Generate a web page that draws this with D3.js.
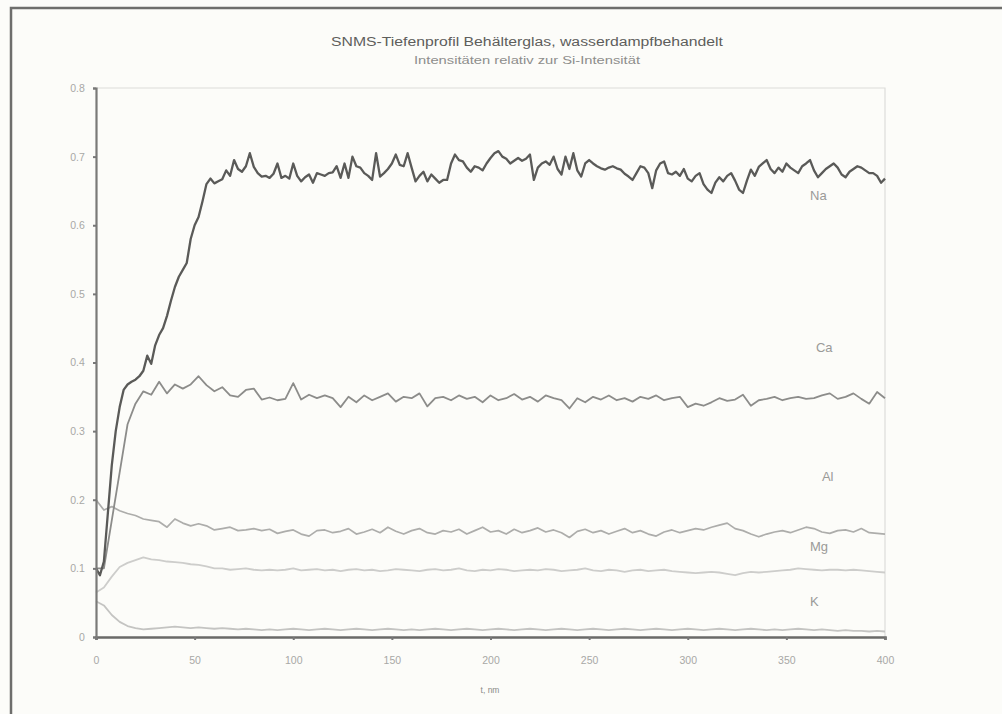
<!DOCTYPE html>
<html>
<head>
<meta charset="utf-8">
<script src="https://cdn.jsdelivr.net/npm/d3@7"></script>
<style>
	body { margin: 0; background: #fcfcf9; }
	svg { display: block; font-family: Arial, "Liberation Sans", sans-serif; }
</style>
</head>
<body>
<div id="chart"></div>
<script>
// depth axis, nm
const depthFine = d3.range(0, 401, 2)
const depthCoarse = d3.range(0, 401, 4)

const naValues = [
	0.10, 0.09, 0.11, 0.18, 0.25, 0.30, 0.335, 0.36, 0.368, 0.372,
	0.375, 0.38, 0.388, 0.41, 0.398, 0.425, 0.44, 0.45, 0.468, 0.49,
	0.51, 0.525, 0.535, 0.545, 0.58, 0.60, 0.612, 0.635, 0.66, 0.668,
	0.661, 0.664, 0.667, 0.68, 0.672, 0.695, 0.682, 0.678, 0.686, 0.705,
	0.685, 0.676, 0.671, 0.672, 0.669, 0.675, 0.69, 0.669, 0.672, 0.668,
	0.69, 0.672, 0.664, 0.67, 0.674, 0.662, 0.676, 0.674, 0.672, 0.676,
	0.677, 0.686, 0.669, 0.69, 0.669, 0.70, 0.686, 0.684, 0.676, 0.672,
	0.666, 0.705, 0.671, 0.676, 0.682, 0.69, 0.703, 0.688, 0.686, 0.705,
	0.684, 0.664, 0.672, 0.678, 0.664, 0.674, 0.668, 0.662, 0.666, 0.666,
	0.69, 0.703, 0.695, 0.693, 0.684, 0.678, 0.686, 0.684, 0.68, 0.69,
	0.698, 0.705, 0.708, 0.70, 0.697, 0.69, 0.694, 0.698, 0.694, 0.697,
	0.703, 0.666, 0.684, 0.69, 0.693, 0.688, 0.70, 0.682, 0.674, 0.70,
	0.682, 0.705, 0.68, 0.671, 0.69, 0.695, 0.69, 0.686, 0.683, 0.681,
	0.684, 0.686, 0.683, 0.681, 0.675, 0.671, 0.666, 0.676, 0.686, 0.684,
	0.676, 0.654, 0.68, 0.69, 0.693, 0.676, 0.674, 0.678, 0.672, 0.682,
	0.668, 0.664, 0.672, 0.676, 0.66, 0.652, 0.647, 0.662, 0.67, 0.664,
	0.672, 0.676, 0.665, 0.652, 0.647, 0.665, 0.681, 0.672, 0.685, 0.69,
	0.695, 0.682, 0.676, 0.684, 0.678, 0.69, 0.684, 0.68, 0.676, 0.686,
	0.69, 0.695, 0.68, 0.67, 0.676, 0.682, 0.686, 0.69, 0.684, 0.674,
	0.67, 0.678, 0.682, 0.686, 0.684, 0.68, 0.676, 0.676, 0.672, 0.662,
	0.668
]

const caValues = [
	0.10, 0.10, 0.17, 0.24, 0.31, 0.34, 0.358, 0.353, 0.372, 0.355,
	0.368, 0.362, 0.368, 0.38, 0.367, 0.358, 0.364, 0.352, 0.35, 0.36,
	0.362, 0.346, 0.349, 0.345, 0.347, 0.37, 0.346, 0.353, 0.348, 0.352,
	0.348, 0.335, 0.35, 0.342, 0.352, 0.345, 0.35, 0.355, 0.343, 0.35,
	0.348, 0.355, 0.336, 0.348, 0.35, 0.345, 0.352, 0.347, 0.35, 0.342,
	0.352, 0.345, 0.348, 0.354, 0.346, 0.35, 0.343, 0.352, 0.348, 0.345,
	0.333, 0.348, 0.342, 0.35, 0.346, 0.352, 0.345, 0.348, 0.343, 0.35,
	0.347, 0.352, 0.345, 0.348, 0.35, 0.335, 0.34, 0.337, 0.342, 0.348,
	0.344, 0.346, 0.353, 0.337, 0.345, 0.347, 0.35, 0.345, 0.348, 0.35,
	0.347, 0.348, 0.352, 0.355, 0.347, 0.35, 0.355, 0.347, 0.34, 0.357,
	0.348
]

const alValues = [
	0.20, 0.185, 0.19, 0.184, 0.18, 0.177, 0.172, 0.17, 0.168, 0.16,
	0.172, 0.166, 0.162, 0.165, 0.162, 0.156, 0.158, 0.16, 0.155, 0.156,
	0.158, 0.155, 0.157, 0.151, 0.154, 0.156, 0.15, 0.147, 0.155, 0.156,
	0.152, 0.154, 0.158, 0.15, 0.153, 0.157, 0.152, 0.16, 0.154, 0.15,
	0.155, 0.158, 0.152, 0.15, 0.155, 0.153, 0.157, 0.15, 0.155, 0.16,
	0.153, 0.155, 0.15, 0.157, 0.152, 0.155, 0.159, 0.153, 0.156, 0.152,
	0.145, 0.154, 0.157, 0.152, 0.155, 0.15, 0.154, 0.158, 0.152, 0.155,
	0.15, 0.147, 0.153, 0.156, 0.152, 0.155, 0.158, 0.156, 0.16, 0.163,
	0.166, 0.158, 0.155, 0.15, 0.146, 0.15, 0.153, 0.155, 0.152, 0.156,
	0.16, 0.158, 0.153, 0.151, 0.155, 0.156, 0.153, 0.158, 0.152, 0.151,
	0.15
]

const mgValues = [
	0.065, 0.072, 0.088, 0.102, 0.108, 0.112, 0.116, 0.113, 0.112, 0.11,
	0.109, 0.108, 0.106, 0.105, 0.103, 0.10, 0.10, 0.098, 0.099, 0.10,
	0.098, 0.097, 0.098, 0.097, 0.098, 0.10, 0.097, 0.098, 0.099, 0.097,
	0.098, 0.096, 0.098, 0.099, 0.097, 0.098, 0.096, 0.097, 0.099, 0.098,
	0.097, 0.096, 0.098, 0.099, 0.097, 0.098, 0.10, 0.097, 0.096, 0.098,
	0.097, 0.099, 0.098, 0.096, 0.097, 0.098, 0.097, 0.099, 0.098, 0.096,
	0.097, 0.098, 0.10, 0.097, 0.096, 0.098, 0.097, 0.095, 0.097, 0.098,
	0.096, 0.097, 0.098, 0.096, 0.095, 0.094, 0.093, 0.094, 0.095, 0.094,
	0.092, 0.09, 0.093, 0.095, 0.094, 0.095, 0.096, 0.097, 0.098, 0.10,
	0.099, 0.098, 0.097, 0.098, 0.098, 0.097, 0.098, 0.097, 0.096, 0.095,
	0.094
]

const kValues = [
	0.052, 0.046, 0.032, 0.022, 0.016, 0.013, 0.011, 0.012, 0.013, 0.014,
	0.015, 0.014, 0.013, 0.014, 0.013, 0.012, 0.013, 0.012, 0.011, 0.012,
	0.011, 0.01, 0.011, 0.01, 0.011, 0.012, 0.011, 0.01, 0.011, 0.012,
	0.011, 0.01, 0.011, 0.012, 0.011, 0.01, 0.011, 0.012, 0.011, 0.01,
	0.011, 0.01, 0.011, 0.012, 0.011, 0.01, 0.011, 0.012, 0.011, 0.01,
	0.011, 0.012, 0.011, 0.01, 0.011, 0.012, 0.011, 0.01, 0.011, 0.012,
	0.011, 0.01, 0.011, 0.012, 0.011, 0.01, 0.011, 0.012, 0.011, 0.01,
	0.011, 0.012, 0.011, 0.01, 0.011, 0.012, 0.011, 0.01, 0.011, 0.012,
	0.011, 0.01, 0.011, 0.012, 0.011, 0.01, 0.011, 0.01, 0.011, 0.012,
	0.011, 0.01, 0.011, 0.01, 0.009, 0.01, 0.009, 0.009, 0.008, 0.009,
	0.008
]

const xTicks = [0, 50, 100, 150, 200, 250, 300, 350, 400]
const yTicks = [0, 0.1, 0.2, 0.3, 0.4, 0.5, 0.6, 0.7, 0.8]

const series = [
	{ name: 'K', x: depthCoarse, y: kValues, color: '#c4c4c2', width: 1.8, label: [362, 0.045] },
	{ name: 'Mg', x: depthCoarse, y: mgValues, color: '#cdcdcb', width: 1.8, label: [362, 0.125] },
	{ name: 'Al', x: depthCoarse, y: alValues, color: '#adadab', width: 1.7, label: [368, 0.227] },
	{ name: 'Ca', x: depthCoarse, y: caValues, color: '#8c8c8a', width: 1.8, label: [365, 0.415] },
	{ name: 'Na', x: depthFine, y: naValues, color: '#5a5a58', width: 2.3, label: [362, 0.637] },
]

const width = 1002
const height = 714
const margin = { top: 88, left: 96, right: 117, bottom: 77 }

const svg = d3.select('#chart')
	.append('svg')
	.attr('width', width)
	.attr('height', height)

svg.append('rect')
	.attr('width', width)
	.attr('height', height)
	.attr('fill', '#fcfcf9')

// scanned page frame
svg.append('path')
	.attr('d', `M${width},8 H11 V${height}`)
	.attr('fill', 'none')
	.attr('stroke', '#6e6e6c')
	.attr('stroke-width', 2.5)

const x = d3.scaleLinear().domain([0, 400]).range([margin.left, width - margin.right])
const y = d3.scaleLinear().domain([0, 0.8]).range([height - margin.bottom, margin.top])

// light plot border top / right
svg.append('path')
	.attr('d', `M${x(0)},${y(0.8)} H${x(400)} V${y(0)}`)
	.attr('fill', 'none')
	.attr('stroke', '#dcdcda')
	.attr('stroke-width', 1.2)

const line = d3.line()
	.x(d => x(d[0]))
	.y(d => y(d[1]))

svg.append('g')
	.selectAll('path')
	.data(series)
	.join('path')
	.attr('d', s => line(s.x.map((v, i) => [v, s.y[i]])))
	.attr('fill', 'none')
	.attr('stroke', s => s.color)
	.attr('stroke-width', s => s.width)
	.attr('stroke-linejoin', 'round')

// axes
const xAxis = svg.append('g')
	.attr('transform', `translate(0,${y(0)})`)
	.call(d3.axisBottom(x).tickValues(xTicks).tickSize(3).tickFormat(d3.format('d')))
xAxis.select('.domain').attr('stroke', '#6a6a68').attr('stroke-width', 2.6)

const yAxis = svg.append('g')
	.attr('transform', `translate(${x(0)},0)`)
	.call(d3.axisLeft(y).tickValues(yTicks).tickSize(3).tickFormat(d => d === 0 ? '0' : d3.format('.1f')(d)))
yAxis.select('.domain').attr('stroke', '#7a7a78').attr('stroke-width', 2.2)

svg.selectAll('.tick line').attr('stroke', '#777').attr('stroke-width', 2)
svg.selectAll('.tick text')
	.attr('fill', '#a8a8a6')
	.attr('font-size', 10.5)
	.attr('font-family', '"Liberation Sans Narrow", Arial, "Liberation Sans", sans-serif')
xAxis.selectAll('.tick text').attr('y', 20)
yAxis.selectAll('.tick text').attr('dx', '-0.5em')

// series labels
svg.append('g')
	.selectAll('text')
	.data(series)
	.join('text')
	.attr('x', s => x(s.label[0]))
	.attr('y', s => y(s.label[1]))
	.attr('fill', '#9a9a98')
	.attr('font-size', 13)
	.text(s => s.name)

// titles
svg.append('text')
	.attr('x', 527)
	.attr('y', 46)
	.attr('text-anchor', 'middle')
	.attr('fill', '#5e5e5c')
	.attr('font-size', 12)
	.attr('textLength', 392)
	.attr('lengthAdjust', 'spacingAndGlyphs')
	.text('SNMS-Tiefenprofil Behälterglas, wasserdampfbehandelt')

svg.append('text')
	.attr('x', 527)
	.attr('y', 64)
	.attr('text-anchor', 'middle')
	.attr('fill', '#8e8e8c')
	.attr('font-size', 11.5)
	.attr('textLength', 226)
	.attr('lengthAdjust', 'spacingAndGlyphs')
	.text('Intensitäten relativ zur Si-Intensität')

svg.append('text')
	.attr('x', 490)
	.attr('y', 693)
	.attr('text-anchor', 'middle')
	.attr('fill', '#8a8a88')
	.attr('font-size', 8.5)
	.text('t, nm')
</script>
</body>
</html>
